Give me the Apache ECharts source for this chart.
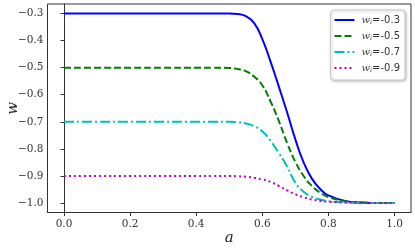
<!DOCTYPE html>
<html>
<head>
<meta charset="utf-8">
<script src="https://cdn.jsdelivr.net/npm/echarts@6/dist/echarts.min.js"></script>
<style>html,body{margin:0;padding:0;background:#fff}#c{width:415px;height:248px}</style>
</head>
<body>
<div id="c"></div>
<script>
var aValues = [0,0.1,0.2,0.3,0.4,0.45,0.5,0.525,0.55,0.575,0.6,0.625,0.65,0.675,0.7,0.725,0.75,0.775,0.8,0.85,0.9,0.95,1.0];
var wBlue    = [-0.3,-0.3,-0.3,-0.3,-0.3,-0.3,-0.3,-0.302,-0.31,-0.335,-0.395,-0.478,-0.57,-0.665,-0.765,-0.85,-0.91,-0.948,-0.972,-0.992,-0.998,-1,-1];
var wGreen   = [-0.5,-0.5,-0.5,-0.5,-0.5,-0.5,-0.501,-0.505,-0.513,-0.533,-0.565,-0.625,-0.697,-0.778,-0.848,-0.9,-0.937,-0.962,-0.978,-0.993,-0.998,-1,-1];
var wCyan    = [-0.7,-0.7,-0.7,-0.7,-0.7,-0.7,-0.7,-0.702,-0.706,-0.716,-0.735,-0.77,-0.815,-0.865,-0.925,-0.958,-0.977,-0.987,-0.993,-0.998,-1,-1,-1];
var wMagenta = [-0.9,-0.9,-0.9,-0.9,-0.9,-0.9,-0.9,-0.901,-0.903,-0.907,-0.913,-0.922,-0.937,-0.953,-0.968,-0.979,-0.987,-0.992,-0.995,-0.998,-0.999,-1,-1];
var seriesNames = ['-0.3','-0.5','-0.7','-0.9'];
var xTicks = [0,0.2,0.4,0.6,0.8,1.0];
var yTicks = [-1.0,-0.9,-0.8,-0.7,-0.6,-0.5,-0.4,-0.3];

function pairs(ys){ return aValues.map(function(a,i){ return [a, ys[i]]; }); }
var colors = ['#0000ff','#008000','#00bfbf','#bf00bf'];
var dashes = ['solid',[7,3],[10,3,2,3],[2,3]];
var datas = [wBlue,wGreen,wCyan,wMagenta];
var serif = '"DejaVu Serif", serif';
function fmt(v){ return (v<0?'\u2212':'') + Math.abs(v).toFixed(1); }

var chart = echarts.init(document.getElementById('c'), null, {renderer:'canvas'});
chart.setOption({
  animation:false,
  grid:{left:47.5,top:4,right:4,bottom:35.5,outerBoundsMode:'none',containLabel:false,show:true,borderColor:'#333',borderWidth:1,backgroundColor:'transparent'},
  xAxis:{type:'value',min:-0.05,max:1.05,
    name:'a',nameLocation:'middle',nameGap:18,nameMoveOverlap:false,
    nameTextStyle:{fontFamily:serif,fontStyle:'italic',fontSize:15,color:'#222'},
    axisLine:{show:true,lineStyle:{color:'#333',width:1}},
    axisTick:{show:true,inside:false,length:3.5,lineStyle:{color:'#333'},customValues:xTicks},
    axisLabel:{customValues:xTicks,formatter:fmt,fontFamily:serif,fontSize:10.5,color:'#333',margin:6},
    splitLine:{show:false}},
  yAxis:{type:'value',min:-1.035,max:-0.265,
    name:'w',nameLocation:'middle',nameGap:27,nameRotate:90,nameMoveOverlap:false,
    nameTextStyle:{fontFamily:serif,fontStyle:'italic',fontSize:15,color:'#222'},
    axisLine:{show:true,lineStyle:{color:'#333',width:1}},
    axisTick:{show:true,inside:false,length:3.5,lineStyle:{color:'#333'},customValues:yTicks},
    axisLabel:{customValues:yTicks,formatter:fmt,fontFamily:serif,fontSize:10.5,color:'#333',margin:4},
    splitLine:{show:false}},
  legend:{right:10,top:10,orient:'vertical',itemWidth:20,itemHeight:8,itemGap:5,
    padding:[5,5,6,3],backgroundColor:'#fff',borderColor:'#ccc',borderWidth:1,borderRadius:3,
    shadowColor:'rgba(0,0,0,0.25)',shadowBlur:3,shadowOffsetX:1,shadowOffsetY:1,
    itemStyle:{opacity:0},
    formatter:function(n){ return '{w|w}{s|i}{t|=' + n + '}'; },
    textStyle:{color:'#333',rich:{
      w:{fontFamily:serif,fontStyle:'italic',fontSize:10,color:'#444',padding:[0,0,0,2]},
      s:{fontFamily:serif,fontStyle:'italic',fontSize:6.5,color:'#444',verticalAlign:'bottom',padding:[5,0,0,0]},
      t:{fontFamily:'"DejaVu Sans", sans-serif',fontSize:10,color:'#333'}}},
    data:seriesNames},
  series:datas.map(function(d,i){
    return {name:seriesNames[i],type:'line',data:pairs(d),symbol:'none',smooth:0.5,
      lineStyle:{color:colors[i],width:2,type:dashes[i],cap:'butt'},itemStyle:{color:colors[i]}};
  })
});
</script>
</body>
</html>
